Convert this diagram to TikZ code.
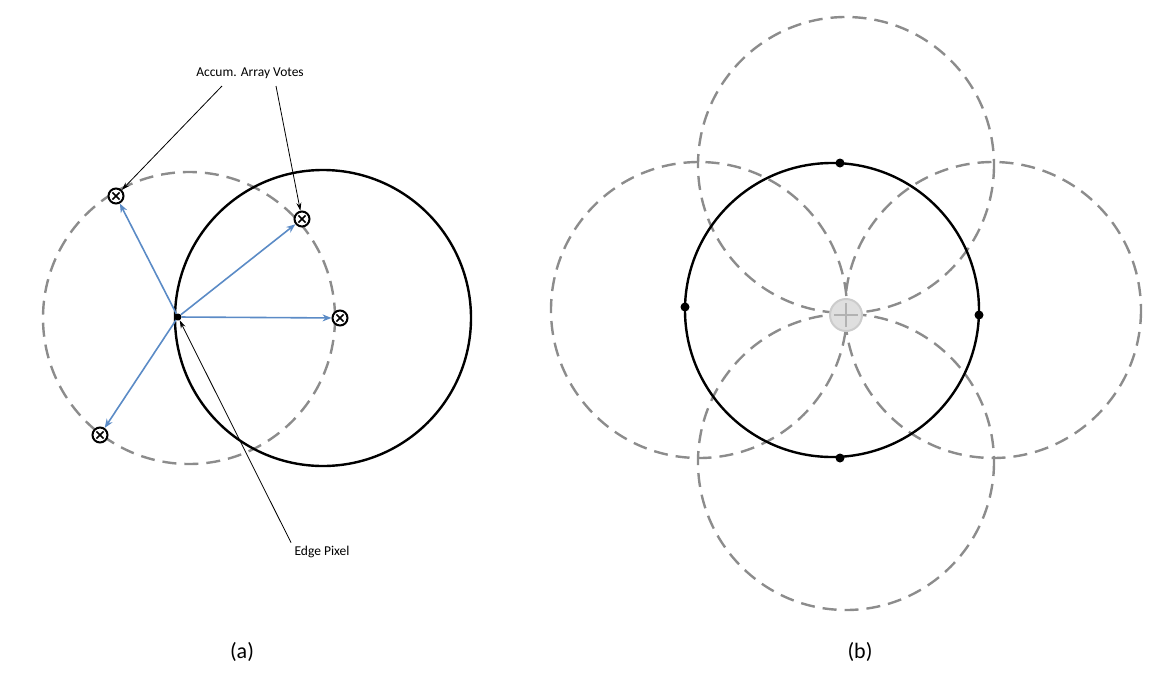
\documentclass[tikz,border=0pt]{standalone}
\usepackage{fontspec}
\setmainfont{Carlito}
\usetikzlibrary{arrows.meta}
\definecolor{dgray}{HTML}{8C8C8C}
\definecolor{ablue}{HTML}{5B8BC6}
\begin{document}
\begin{tikzpicture}[x=1pt,y=-1pt,
  dashc/.style={dgray,line width=2.4pt,dash pattern=on 14pt off 8pt},
  solidc/.style={black,line width=2.4pt},
  vote/.style={circle,draw=black,line width=2pt,minimum size=15pt,inner sep=0pt,fill=white,
    path picture={\draw[line width=1.6pt] ([shift={(-3.6pt,-3.6pt)}]path picture bounding box.center)--([shift={(3.6pt,3.6pt)}]path picture bounding box.center);
    \draw[line width=1.6pt] ([shift={(-3.6pt,3.6pt)}]path picture bounding box.center)--([shift={(3.6pt,-3.6pt)}]path picture bounding box.center);}},
  dot/.style={circle,fill=black,minimum size=9pt,inner sep=0pt},
  va/.style={ablue,line width=1.6pt,-{Stealth[length=9pt,width=7pt,open]}},
  ann/.style={black,line width=0.8pt,-{Stealth[length=8pt,width=5pt]}},
  lbl/.style={font=\fontsize{13.5}{16}\selectfont},
  capt/.style={font=\fontsize{22}{26}\selectfont}]
\useasboundingbox (0,0) rectangle (1168,675);
% panel a
\draw[dashc] (189,318) circle (146);
\draw[solidc] (323,318) circle (148);
\node[dot,minimum size=7pt] (ep) at (178,317) {};
\node[vote] (v1) at (116,196) {};
\node[vote] (v2) at (302,219) {};
\node[vote] (v3) at (340,318) {};
\node[vote] (v4) at (100,435) {};
\draw[va] (ep) -- (v1);
\draw[va] (ep) -- (v2);
\draw[va] (ep) -- (v3);
\draw[va] (ep) -- (v4);
\node[lbl] (acc) at (250,73) {Accum. Array Votes};
\node[lbl] (edge) at (322,552) {Edge Pixel};
\coordinate (a1) at (222,86);
\coordinate (a2) at (276,86);
\draw[ann] (a1) -- (v1);
\draw[ann] (a2) -- (v2);
\draw[ann] (edge.north west) -- (ep);
\node[capt] (ca) at (242,652) {(a)};
% panel b
\draw[dashc] (846,165) circle (148);
\draw[dashc] (699,310) circle (148);
\draw[dashc] (993,310) circle (148);
\draw[dashc] (846,462) circle (148);
\draw[solidc] (832,310) circle (147);
\node[dot] (d1) at (840,163) {};
\node[dot] (d2) at (685,307) {};
\node[dot] (d3) at (979,315) {};
\node[dot] (d4) at (840,458) {};
\node[circle,draw=gray!40,fill=gray!25,line width=2pt,minimum size=32pt,inner sep=0pt,
  path picture={\draw[gray!60,line width=2pt] ([xshift=-12pt]path picture bounding box.center)--([xshift=12pt]path picture bounding box.center);
  \draw[gray!60,line width=2pt] ([yshift=-12pt]path picture bounding box.center)--([yshift=12pt]path picture bounding box.center);}] (c) at (846,315) {};
\node[capt] (cb) at (860,652) {(b)};
\end{tikzpicture}
\end{document}
